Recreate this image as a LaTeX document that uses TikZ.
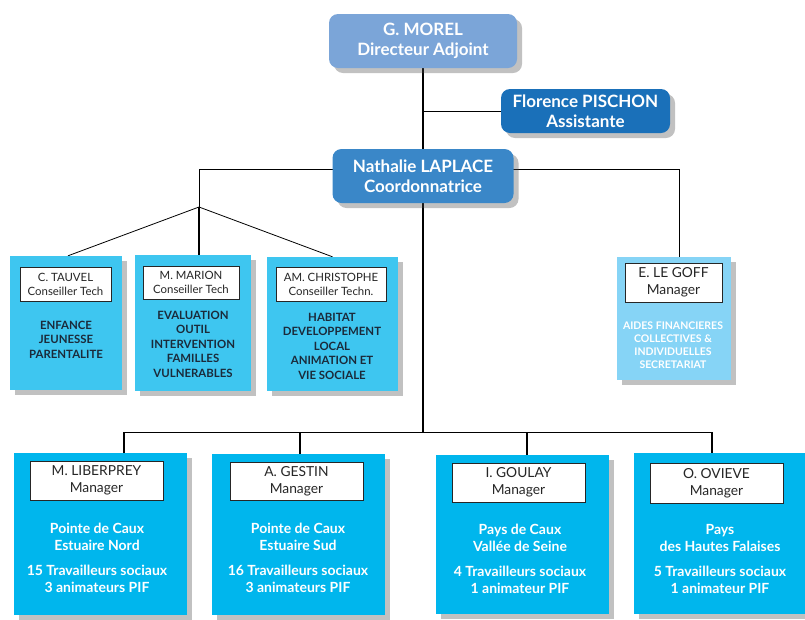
\documentclass[tikz,border=0pt]{standalone}
\usepackage{fontspec}
\setmainfont{Lato}
\usetikzlibrary{shadows,backgrounds}
\definecolor{morelC}{HTML}{7BA5D8}
\definecolor{pischonC}{HTML}{1A70B9}
\definecolor{laplaceC}{HTML}{3A87C8}
\definecolor{cyanA}{HTML}{3EC6F0}
\definecolor{cyanB}{HTML}{00B6ED}
\definecolor{lightC}{HTML}{86D4F6}
\definecolor{navyC}{HTML}{1B2A3A}
\definecolor{nameC}{HTML}{262626}
\tikzset{
  shad/.style={drop shadow={opacity=0.35,shadow xshift=5pt,shadow yshift=-5pt,fill=black!70}},
  topbox/.style={shad,rounded corners=9pt,text=white,align=center,inner sep=0pt,
    font=\bfseries\fontsize{17}{20}\selectfont},
  panel/.style={shad,inner sep=0pt},
  namebox/.style={draw=black!85,line width=0.9pt,fill=white,align=center,inner sep=0pt,text=nameC},
  smallname/.style={namebox,font=\fontsize{11.4}{14}\selectfont},
  bigname/.style={namebox,font=\fontsize{13.8}{17}\selectfont},
  bodysmall/.style={align=center,inner sep=0pt,text=navyC,font=\bfseries\fontsize{11.4}{14.5}\selectfont},
  bodyw/.style={align=center,inner sep=0pt,text=white,font=\bfseries\fontsize{10.5}{13}\selectfont},
  bodybig/.style={align=center,inner sep=0pt,text=white,font=\bfseries\fontsize{14}{17}\selectfont},
  link/.style={draw=black,line width=0.8pt},
  spine/.style={draw=black,line width=1.6pt},
}
\begin{document}
\begin{tikzpicture}[x=1pt,y=-1pt]
\useasboundingbox (0,0) rectangle (805,619);
% top
\node[topbox,fill=morelC,minimum width=188,minimum height=54] (morel) at (423,41) {G. MOREL\\Directeur Adjoint};
\node[topbox,fill=pischonC,minimum width=169,minimum height=44] (pischon) at (585.5,111) {Florence PISCHON\\Assistante};
\node[topbox,fill=laplaceC,minimum width=181,minimum height=54] (laplace) at (423,176) {Nathalie LAPLACE\\Coordonnatrice};
% advisors
\node[panel,fill=cyanA,minimum width=112,minimum height=134] (tauvel) at (66,323) {};
\node[panel,fill=cyanA,minimum width=116,minimum height=136] (marion) at (193,323) {};
\node[panel,fill=cyanA,minimum width=131,minimum height=134] (christophe) at (332.5,324) {};
\node[panel,fill=lightC,minimum width=114,minimum height=123] (legoff) at (674,318.5) {};
\node[smallname,minimum width=91,minimum height=34] (tauvelN) at (65.5,284) {C. TAUVEL\\Conseiller Tech};
\node[smallname,minimum width=96,minimum height=33] (marionN) at (191,282.5) {M. MARION\\Conseiller Tech};
\node[smallname,minimum width=110,minimum height=34] (christN) at (331,284) {AM. CHRISTOPHE\\Conseiller Techn.};
\node[bigname,minimum width=97,minimum height=39] (legoffN) at (673.5,282.5) {E. LE GOFF\\Manager};
\node[bodysmall] (tauvelB) at (66,339.5) {ENFANCE\\JEUNESSE\\PARENTALITE};
\node[bodysmall] (marionB) at (193,344) {EVALUATION\\OUTIL\\INTERVENTION\\FAMILLES\\VULNERABLES};
\node[bodysmall] (christB) at (332,346) {HABITAT\\DEVELOPPEMENT\\LOCAL\\ANIMATION ET\\VIE SOCIALE};
\node[bodyw] (legoffB) at (673,345.5) {AIDES FINANCIERES\\COLLECTIVES \&\\INDIVIDUELLES\\SECRETARIAT};
% managers
\node[panel,fill=cyanB,minimum width=173,minimum height=162] (lib) at (100.5,534) {};
\node[panel,fill=cyanB,minimum width=173,minimum height=161] (gestin) at (298.5,534.5) {};
\node[panel,fill=cyanB,minimum width=173,minimum height=159] (goulay) at (522.5,534.5) {};
\node[panel,fill=cyanB,minimum width=171,minimum height=161] (ovieve) at (719.5,533.5) {};
\node[bigname,minimum width=133,minimum height=39] (libN) at (96.5,480.5) {M. LIBERPREY\\Manager};
\node[bigname,minimum width=133,minimum height=38] (gestinN) at (296.5,481) {A. GESTIN\\Manager};
\node[bigname,minimum width=133,minimum height=39] (goulayN) at (518.5,482.5) {I. GOULAY\\Manager};
\node[bigname,minimum width=133,minimum height=40] (ovieveN) at (716.5,483) {O. OVIEVE\\Manager};
\node[bodybig] (libB) at (97,557.5) {Pointe de Caux\\Estuaire Nord\\[8pt]15 Travailleurs sociaux\\3 animateurs PIF};
\node[bodybig] (gestinB) at (298,558) {Pointe de Caux\\Estuaire Sud\\[8pt]16 Travailleurs sociaux\\3 animateurs PIF};
\node[bodybig] (goulayB) at (520,559) {Pays de Caux\\Vallée de Seine\\[8pt]4 Travailleurs sociaux\\1 animateur PIF};
\node[bodybig] (ovieveB) at (720,559) {Pays\\des Hautes Falaises\\[8pt]5 Travailleurs sociaux\\1 animateur PIF};
% junctions
\coordinate (jp) at (423,111);
\coordinate (hl) at (199,169);
\coordinate (hr) at (679,169);
\coordinate (fan) at (199,207);
\coordinate (bj) at (423,432);
\coordinate (b1) at (124,432);
\coordinate (b2) at (300,432);
\coordinate (b3) at (527,432);
\coordinate (b4) at (712,432);
\begin{scope}[on background layer]
\draw[spine] (morel.south) -- (laplace.north);
\draw[link] (jp) -- (pischon.west);
\draw[link] (hl) -- (hr);
\draw[link] (hl) -- (fan);
\draw[link] (fan) -- ([xshift=2]tauvel.north);
\draw[spine] (fan) -- (fan |- marion.north);
\draw[link] (fan) -- (christophe.north);
\draw[link] (hr) -- (hr |- legoff.north);
\draw[spine] (laplace.south) -- (bj);
\draw[link] (b1) -- (b4);
\draw[spine] (b1) -- (b1 |- lib.north);
\draw[spine] (b2) -- (b2 |- gestin.north);
\draw[spine] (b3) -- (b3 |- goulay.north);
\draw[spine] (b4) -- (b4 |- ovieve.north);
\end{scope}
\end{tikzpicture}
\end{document}
